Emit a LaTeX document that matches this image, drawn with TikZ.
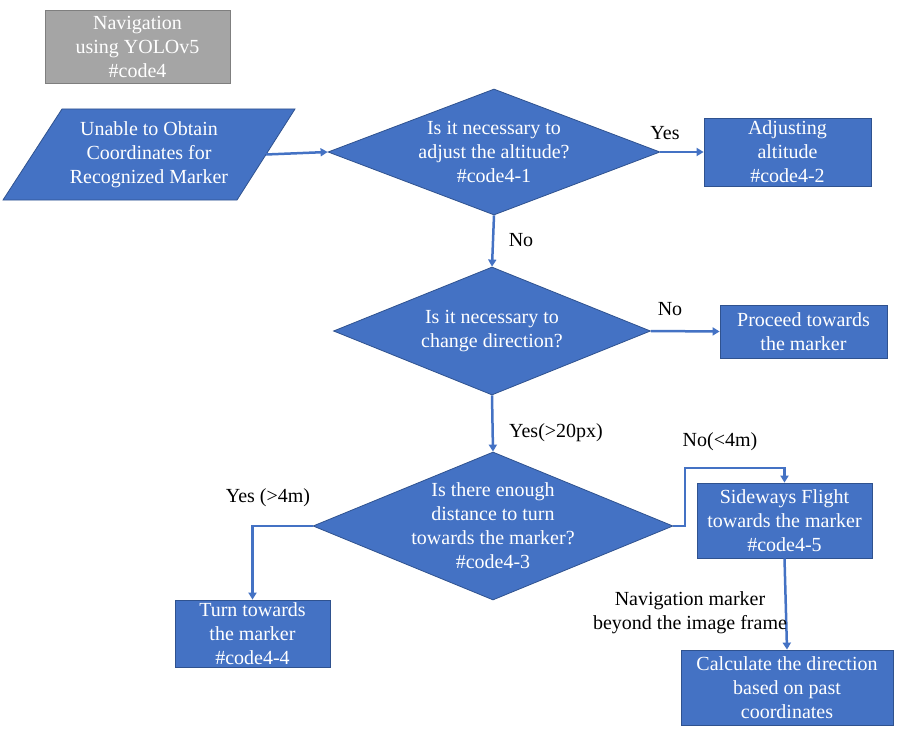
\documentclass[tikz,border=0pt]{standalone}
\usepackage{fontspec}
\setmainfont{LiberationSerif}[Extension=.ttf, UprightFont=*-Regular, BoldFont=*-Bold, ItalicFont=*-Italic, BoldItalicFont=*-BoldItalic]
\usetikzlibrary{shapes.geometric,arrows.meta}
\definecolor{obl}{HTML}{4472C4}
\definecolor{obd}{HTML}{2F528F}
\definecolor{gfill}{HTML}{A5A5A5}
\definecolor{gdraw}{HTML}{7F7F7F}
\newcommand\figfont{\rmfamily\fontsize{20}{24}\selectfont}
\begin{document}
\begin{tikzpicture}[x=1pt,y=-1pt,
 box/.style={rectangle, fill=obl, draw=obd, line width=0.8pt, text=white, align=center, font=\figfont, inner sep=0pt},
 dia/.style={diamond, fill=obl, draw=obd, line width=0.8pt, inner sep=0pt},
 wtxt/.style={text=white, align=center, font=\figfont, inner sep=0pt},
 lbl/.style={text=black, align=center, font=\figfont, inner sep=0pt},
 conn/.style={draw=obl, line width=2.5pt, -{Triangle[length=7pt,width=8pt]}},
]
\fill[white] (0,0) rectangle (908,733);
\useasboundingbox (0,0) rectangle (908,733);

% title
\node[box, fill=gfill, draw=gdraw, minimum width=185pt, minimum height=73pt] (title) at (137.5,46.5) {Navigation\\using YOLOv5\\\#code4};

% start parallelogram
\filldraw[fill=obl, draw=obd, line width=0.8pt] (62,109) -- (295,109) -- (237,200) -- (3,200) -- cycle;
\node[wtxt] (start) at (149,155) {Unable to Obtain\\Coordinates for\\Recognized Marker};
\coordinate (startE) at (266,154.5);

% decisions
\node[dia, minimum width=332pt, minimum height=126pt] (d1) at (494,152) {};
\node[wtxt] (d1t) at (d1) {Is it necessary to\\adjust the altitude?\\\#code4-1};
\node[dia, minimum width=317pt, minimum height=128pt] (d2) at (492,331) {};
\node[wtxt] (d2t) at (d2) {Is it necessary to\\change direction?};
\node[dia, minimum width=360pt, minimum height=148pt] (d3) at (493,526) {};
\node[wtxt] (d3t) at (d3) {Is there enough\\distance to turn\\towards the marker?\\\#code4-3};

% boxes
\node[box, minimum width=167pt, minimum height=68pt] (b2) at (787.5,152) {Adjusting\\altitude\\\#code4-2};
\node[box, minimum width=167pt, minimum height=53pt] (b3) at (803.5,331.5) {Proceed towards\\the marker};
\node[box, minimum width=155pt, minimum height=67pt] (b4) at (252.5,633.5) {Turn towards\\the marker\\\#code4-4};
\node[box, minimum width=175pt, minimum height=75pt] (b5) at (784.5,520.5) {Sideways Flight\\towards the marker\\\#code4-5};
\node[box, minimum width=212pt, minimum height=75pt] (b6) at (787,687.5) {Calculate the direction\\based on past\\coordinates};

% connectors
\draw[conn] (startE) -- (d1.west);
\draw[conn] (d1.east) -- (b2.west);
\draw[conn] (d1.south) -- (d2.north);
\draw[conn] (d2.east) -- (b3.west);
\draw[conn] (d2.south) -- (d3.north);
\draw[conn] (d3.west) -| (b4.north);
\coordinate (k1) at (685,468);
\draw[conn] (d3.east) -| (k1) -| (b5.north);
\draw[conn] (b5.south) -- (b6.north);

% labels
\node[lbl] (lyes1) at (665,133) {Yes};
\node[lbl] (lno1) at (521,240) {No};
\node[lbl] (lno2) at (670,309) {No};
\node[lbl] (lyes2) at (556,433) {Yes(>20px)};
\node[lbl] (lyes3) at (268,498) {Yes (>4m)};
\node[lbl] (lno3) at (720,442) {No(<4m)};
\node[lbl] (lnav) at (690,613) {Navigation marker\\beyond the image frame};
\end{tikzpicture}
\end{document}
